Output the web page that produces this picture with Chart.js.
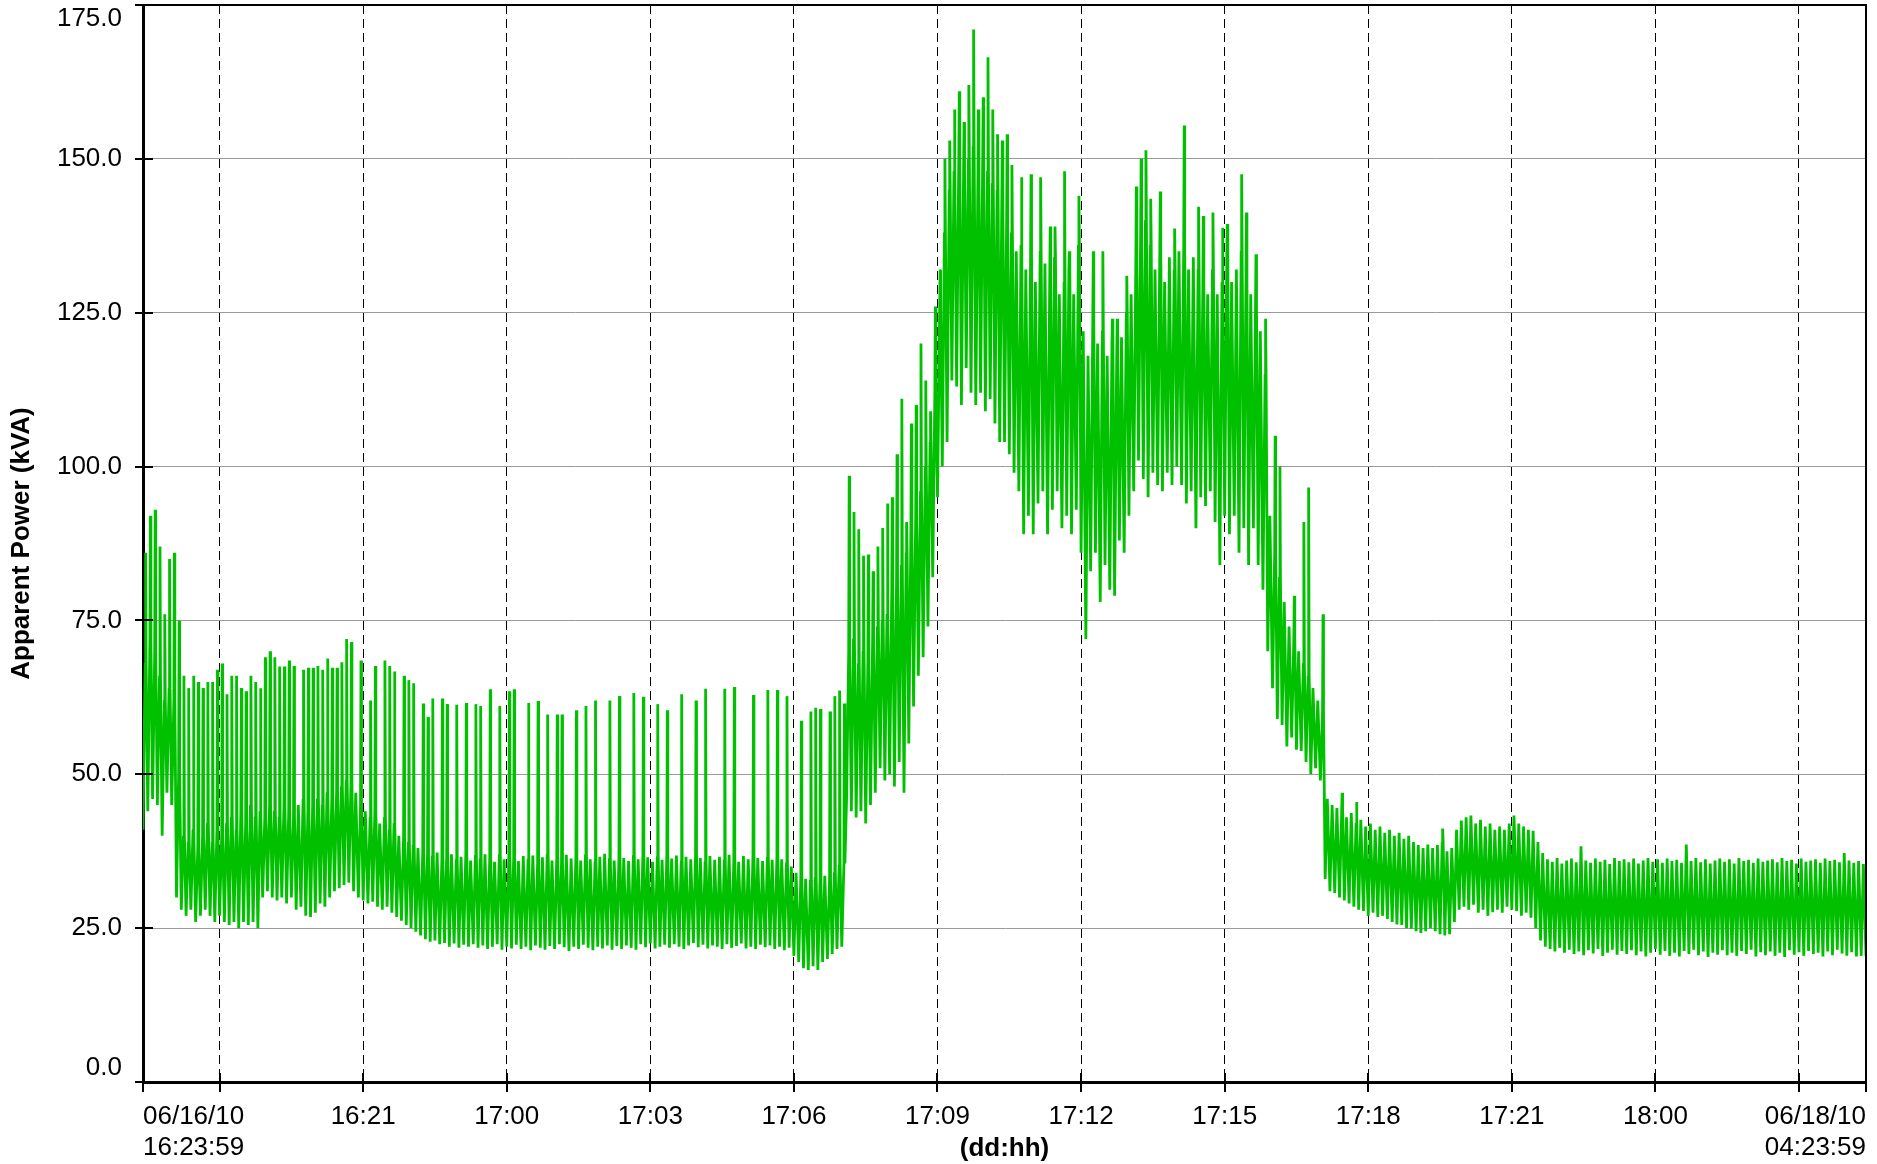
<!DOCTYPE html>
<html>
<head>
<meta charset="utf-8">
<title>Apparent Power (kVA)</title>
<script src="https://cdn.jsdelivr.net/npm/chart.js@4.4.0/dist/chart.umd.min.js"></script>
<style>
  html, body { margin: 0; padding: 0; background: #ffffff; }
  #js-power-chart { display: block; }
</style>
</head>
<body>
<canvas id="js-power-chart" width="1877" height="1164"></canvas>
<script>
"use strict";

// hours since 06/16/10 16:23:59, one bin every 6 minutes
const BIN_HOURS = 0.1;
const X_MIN = 0;
const X_MAX = 36;

// gridlines every 3 hours (dd:hh)
const X_TICK_HOURS = [1.6, 4.6, 7.6, 10.6, 13.6, 16.6, 19.6, 22.6, 25.6, 28.6, 31.6, 34.6];
const X_TICK_LABELS = ["", "16:21", "17:00", "17:03", "17:06", "17:09", "17:12", "17:15", "17:18", "17:21", "18:00", ""];
const X_START_LABEL = ["06/16/10", "16:23:59"];
const X_END_LABEL = ["06/18/10", "04:23:59"];
const Y_TICKS = [0, 25, 50, 75, 100, 125, 150, 175];

// lower edge of the trace in each bin (kVA)
const lowKva = [
  41, 44, 46, 45, 40, 47, 45, 30, 28, 27,
  28, 26, 27, 28, 27, 26, 27, 26, 25.5, 26,
  25, 26, 25.5, 26, 25, 30, 31, 30, 29.5, 30,
  29, 30, 28, 28.5, 27, 26.8, 27.5, 29, 28.5, 30,
  31, 31.5, 32, 32.4, 31, 30, 29.5, 29, 29.3, 28.5,
  28, 28.5, 27.5, 26.8, 26.2, 25.5, 25, 24.4, 23.8, 23.2,
  22.8, 23, 22.4, 22.6, 22, 22.5, 21.8, 22.3, 22, 22.4,
  21.8, 22.2, 21.6, 22, 22.4, 21.5, 22, 21.7, 22.3, 21.6,
  22, 21.4, 22.2, 21.8, 21.5, 22.1, 21.6, 22.4, 21.9, 21.3,
  22, 21.6, 22.3, 21.8, 21.4, 22, 21.7, 22.2, 21.5, 22.1,
  21.6, 22.2, 21.8, 21.5, 22.4, 21.9, 22.5, 21.7, 22, 22.3,
  21.8, 22.4, 22, 21.6, 22.2, 22.6, 21.9, 22.3, 21.7, 22.2,
  22, 21.6, 22.4, 21.8, 22.1, 22.5, 21.7, 22, 21.6, 22.3,
  21.9, 22.2, 21.6, 22, 21.4, 21.8, 20.5, 19.5, 18.5, 18.2,
  18.8, 18.2, 19.5, 20, 20.8, 21.6, 22, 46, 44, 43,
  44, 42, 45, 47, 51, 49, 50, 48, 52, 47,
  55, 61, 66, 69, 74, 82, 95, 100, 104, 114,
  113, 110, 116, 112, 110, 112, 109, 111, 107, 104,
  104, 102, 99, 96, 89, 92, 89, 94, 96, 89,
  93, 96, 90, 92, 89, 93, 86, 72, 83, 86,
  78, 84, 80, 79, 88, 86, 92, 96, 101, 98,
  95, 99, 97, 96, 99, 97, 100, 97, 94, 96,
  90, 95, 93.6, 96, 91, 84, 92, 89, 92, 86,
  90, 84, 90, 84, 80, 70, 64, 59, 58, 54.5,
  56, 54, 53.8, 52, 50, 51, 49, 33, 31, 30.7,
  30, 29.5, 29, 28.5, 28, 27.8, 27, 27.5, 26.8, 27,
  26.5, 26, 25.6, 25.5, 25, 24.9, 24.5, 24.2, 24.5, 25,
  24.5, 24, 23.8, 24, 26, 28, 28.5, 28, 28.8, 27.5,
  28, 27, 27.6, 28, 27.5, 28.5, 28, 27.8, 27, 27.5,
  26.7, 25, 23, 22, 21.6, 21.2, 21.8, 21, 21.5, 20.8,
  21.2, 20.6, 21.4, 20.9, 21.6, 20.5, 21, 21.5, 20.7, 21.3,
  20.8, 21.4, 20.6, 21.2, 20.4, 21, 21.6, 20.7, 21.3, 20.5,
  21, 20.4, 21.3, 20.8, 21.5, 20.6, 21.2, 20.3, 21, 20.7,
  21.4, 20.6, 21, 20.5, 21.3, 20.8, 21.5, 20.4, 21.1, 20.6,
  21.2, 20.5, 21, 20.3, 21.4, 20.7, 21.1, 20.5, 21.3, 20.8,
  21, 20.4, 21.2, 20.6, 21.5, 20.9, 20.5, 21.1, 20.4, 20.5
];

// upper edge of the dense band in each bin (kVA)
const topKva = [
  68, 72, 70, 66, 62, 64, 62, 50, 40, 39,
  41, 38, 40, 42, 39, 41, 40, 42, 43, 41,
  44, 42, 45, 43, 44, 43, 45, 44, 43, 45,
  44, 43, 45, 46, 44, 45, 46, 45, 47, 46,
  47, 48, 49, 48.5, 47, 45, 44, 43, 44, 42,
  43, 41, 42, 40, 39.8, 39, 38.5, 38, 37.5, 37,
  36.7, 37.3, 36.2, 36.8, 37, 36.1, 36.6, 37.2, 36, 36.8,
  36.3, 37, 36.5, 35.8, 36.9, 36.2, 37.1, 36.4, 35.9, 36.7,
  36.2, 36.8, 35.7, 36.5, 37, 36, 36.6, 35.8, 36.9, 36.3,
  36.7, 36, 36.9, 36.2, 35.8, 36.6, 37.1, 36.3, 36, 36.8,
  36.4, 35.9, 36.8, 36.2, 37, 36.5, 35.8, 36.6, 36.1, 36.9,
  36.3, 36.8, 35.9, 36.6, 36.2, 37, 36.4, 35.8, 36.7, 36.1,
  36.6, 36, 36.9, 36.3, 35.8, 36.7, 36.2, 37, 36.4, 35.9,
  36.5, 36.1, 36.8, 36.2, 35.6, 35, 34, 33.5, 33, 32.8,
  33.2, 32.6, 33.5, 33, 34, 35.2, 35.5, 70, 72, 68,
  70, 68, 72, 74, 75, 76, 80, 82, 84, 86,
  90, 92, 96, 100, 104, 112, 125, 138, 145, 148,
  150, 148, 150, 152, 147, 150, 148, 146, 145, 144,
  140, 138, 135, 136, 132, 134, 130, 135, 133, 130,
  134, 128, 130, 132, 128, 136, 122, 118, 124, 120,
  122, 118, 120, 118, 121, 125, 128, 134, 138, 140,
  136, 132, 135, 130, 134, 132, 135, 136, 132, 134,
  132, 130, 128, 132, 128, 130, 134, 130, 132, 135,
  130, 128, 126, 122, 115, 92, 86, 82, 78, 74,
  72, 70, 68, 66, 64, 62, 60, 46, 45, 44.5,
  44, 43, 43.7, 42, 42.6, 41.5, 42, 41, 41.5, 40.5,
  41, 40, 40.5, 39.5, 40, 39, 38.5, 38, 38.6, 38,
  38.5, 39, 37.5, 38, 41, 42.5, 43, 43.3, 42, 42.6,
  41.5, 42, 41, 41.5, 41, 42, 43.3, 42, 41.5, 41,
  40.8, 39, 37.2, 36.2, 35.8, 36.4, 35.5, 36, 36.3, 35.7,
  38.3, 36, 35.6, 36.3, 35.8, 36.1, 35.4, 36.4, 35.9, 36.2,
  35.7, 36.3, 35.5, 36, 36.4, 35.8, 36.2, 35.6, 36.3, 35.9,
  36.1, 35.6, 38.6, 35.9, 36.4, 35.7, 36.2, 35.5, 36, 36.3,
  35.8, 36.2, 35.5, 36.4, 35.9, 36.1, 35.6, 36.3, 35.8, 36,
  36.2, 35.7, 36.4, 35.9, 36.1, 35.5, 36.3, 35.8, 36, 36.2,
  35.6, 36.3, 35.9, 36.1, 35.7, 37.2, 36, 35.6, 35.9, 35.4
];

// single tall peaks in a bin, 0 = none (kVA)
const spikeKva = [
  86, 92, 93, 87, 76, 85, 86, 75, 66, 64,
  66, 65, 64, 65, 65, 67, 68, 63, 66, 66,
  64, 63.5, 66, 65, 64, 69, 70, 69, 67.5, 67.5,
  68.5, 67.6, 0, 67, 67.3, 67.3, 67.6, 67, 68.8, 67.3,
  67.3, 68.2, 72, 71.5, 0, 68.5, 0, 62, 67.6, 0,
  68.5, 67.6, 66.7, 0, 66, 65.3, 64.8, 0, 61.5, 59.3,
  62.3, 0, 62.3, 61.4, 0, 61.3, 0, 61.6, 0, 61.4,
  61.1, 0, 63.8, 0, 61.1, 0, 63.5, 63.8, 0, 0,
  61.6, 0, 61.9, 0, 59.7, 0, 59.7, 59.7, 0, 0,
  60.4, 0, 61.1, 0, 62, 0, 0, 62, 0, 62.7,
  0, 0, 63.2, 0, 62.6, 0, 0, 61.4, 0, 60.4,
  0, 0, 63, 0, 0, 62, 0, 63.9, 0, 0,
  0, 63.9, 0, 64.2, 0, 0, 0, 62.9, 0, 0,
  63.7, 0, 63.7, 0, 62.7, 0, 0, 58.7, 0, 60.2,
  60.8, 60.6, 0, 60.2, 62.7, 63.6, 61.5, 98.5, 92.6, 89.8,
  85.5, 85.7, 83, 87, 90, 94, 95, 102, 111, 91,
  107, 110, 120, 114, 109, 126, 132, 150, 153, 158,
  161, 156, 162, 171, 158, 160, 166.5, 158, 154, 153,
  154, 149, 0, 147, 0, 147.5, 0, 147, 0, 139,
  139, 0, 148, 135, 0, 144, 0, 0, 135, 0,
  135, 0, 124, 124, 0, 131, 0, 145.5, 150, 151.4,
  143.5, 0, 144.7, 0, 0, 138.7, 0, 155.4, 0, 0,
  142.2, 140.7, 0, 141.3, 0, 138.8, 139.4, 0, 0, 147.5,
  141.3, 0, 134.5, 0, 124, 0, 105, 100, 0, 0,
  79, 0, 91, 96.6, 0, 0, 76, 0, 0, 0,
  47, 0, 0, 45.5, 0, 0, 0, 0, 0, 0,
  0, 0, 0, 0, 0, 0, 0, 0, 0, 0,
  0, 41.2, 0, 0, 0, 0, 0, 0, 0, 0,
  0, 0, 0, 0, 0, 0, 0, 0, 0, 0,
  0, 0, 0, 0, 0, 0, 0, 0, 0, 0,
  0, 0, 0, 0, 0, 0, 0, 0, 0, 0,
  0, 0, 0, 0, 0, 0, 0, 0, 0, 0,
  0, 0, 0, 0, 0, 0, 0, 0, 0, 0,
  0, 0, 0, 0, 0, 0, 0, 0, 0, 0,
  0, 0, 0, 0, 0, 0, 0, 0, 0, 0,
  0, 0, 0, 0, 0, 0, 0, 0, 0, 0
];

// last reading at 06/18/10 04:23:59
const lastKva = 20.5;

{
  const FONT_FAMILY = "'Liberation Sans', Arial, sans-serif";
  const LINE_COLOR = "#00c000";

  // low -> band top -> (narrow spike) for every bin
  function buildTrace() {
    const points = [];
    for (let i = 0; i < lowKva.length; i++) {
      const t = i * BIN_HOURS;
      points.push({ x: t, y: lowKva[i] });
      points.push({ x: t + 0.045, y: topKva[i] });
      if (spikeKva[i] > 0) {
        points.push({ x: t + 0.055, y: spikeKva[i] });
        points.push({ x: t + 0.065, y: topKva[i] });
      }
    }
    points.push({ x: X_MAX, y: lastKva });
    return points;
  }

  // frame, crossing tick marks, y labels and the two end labels
  const axisDecor = {
    id: "axisDecor",
    afterDraw(chart) {
      const { ctx, chartArea, scales } = chart;
      const { left, right, top, bottom } = chartArea;
      ctx.save();
      ctx.strokeStyle = "#000000";
      ctx.lineWidth = 2;
      ctx.beginPath();
      ctx.moveTo(left, top);
      ctx.lineTo(right, top);
      ctx.lineTo(right, bottom);
      ctx.stroke();

      ctx.beginPath();
      X_TICK_HOURS.concat([X_MIN, X_MAX]).forEach((h) => {
        const x = Math.round(scales.x.getPixelForValue(h));
        ctx.moveTo(x, bottom - 9);
        ctx.lineTo(x, bottom + 10);
      });
      Y_TICKS.forEach((v) => {
        const y = Math.round(scales.y.getPixelForValue(v));
        ctx.moveTo(left - 8, y);
        ctx.lineTo(left + 10, y);
      });
      ctx.stroke();

      ctx.fillStyle = "#000000";
      ctx.font = "26px " + FONT_FAMILY;
      ctx.textBaseline = "middle";
      ctx.textAlign = "right";
      Y_TICKS.forEach((v) => {
        let y = scales.y.getPixelForValue(v);
        if (v === Y_TICKS[Y_TICKS.length - 1]) y += 14;
        if (v === Y_TICKS[0]) y -= 14;
        ctx.fillText(v.toFixed(1), left - 21, y);
      });

      ctx.textAlign = "left";
      ctx.fillText(X_START_LABEL[0], left, 1117);
      ctx.fillText(X_START_LABEL[1], left, 1148);
      ctx.textAlign = "right";
      ctx.fillText(X_END_LABEL[0], right, 1117);
      ctx.fillText(X_END_LABEL[1], right, 1148);
      ctx.restore();
    },
  };

  function createPowerChart() {
    const power_ctx = document.getElementById("js-power-chart").getContext("2d");
    Chart.defaults.font.family = FONT_FAMILY;
    Chart.defaults.color = "#000000";

    const powerChart = new Chart(power_ctx, {
      type: "line",
      data: {
        datasets: [
          {
            data: buildTrace(),
            borderColor: LINE_COLOR,
            borderWidth: 2.8,
            borderJoinStyle: "bevel",
            pointRadius: 0,
            tension: 0,
            fill: false,
          },
        ],
      },
      options: {
        responsive: false,
        animation: false,
        devicePixelRatio: 1,
        parsing: false,
        normalized: true,
        layout: {
          padding: { top: 5, right: 11, bottom: 0, left: 0 },
        },
        scales: {
          x: {
            type: "linear",
            min: X_MIN,
            max: X_MAX,
            z: 1,
            afterBuildTicks: (scale) => {
              scale.ticks = X_TICK_HOURS.map((h) => ({ value: h }));
            },
            afterFit: (scale) => {
              scale.height = 82;
            },
            grid: {
              color: "#000000",
              lineWidth: 1,
              drawTicks: false,
            },
            border: {
              display: true,
              color: "#000000",
              width: 3,
              dash: [9, 5],
            },
            ticks: {
              autoSkip: false,
              maxRotation: 0,
              minRotation: 0,
              padding: 19,
              font: { size: 26 },
              color: "#000000",
              callback: function (value) {
                const idx = X_TICK_HOURS.findIndex((h) => Math.abs(h - value) < 1e-6);
                return idx >= 0 ? X_TICK_LABELS[idx] : "";
              },
            },
            title: {
              display: true,
              text: "(dd:hh)",
              font: { size: 26, weight: "bold" },
              color: "#000000",
              padding: { top: 0, bottom: 0 },
            },
          },
          y: {
            min: 0,
            max: 175,
            afterFit: (scale) => {
              scale.width = 143;
            },
            grid: {
              color: "#9a9a9a",
              lineWidth: 1,
              drawTicks: false,
            },
            border: {
              display: true,
              color: "#000000",
              width: 3,
            },
            ticks: {
              stepSize: 25,
              display: false,
            },
            title: {
              display: true,
              text: "Apparent Power (kVA)",
              font: { size: 26, weight: "bold" },
              color: "#000000",
              padding: { top: 6, bottom: 0 },
            },
          },
        },
        plugins: {
          legend: { display: false },
          tooltip: { enabled: false },
        },
      },
      plugins: [axisDecor],
    });
    return powerChart;
  }

  createPowerChart();
}
</script>
</body>
</html>
